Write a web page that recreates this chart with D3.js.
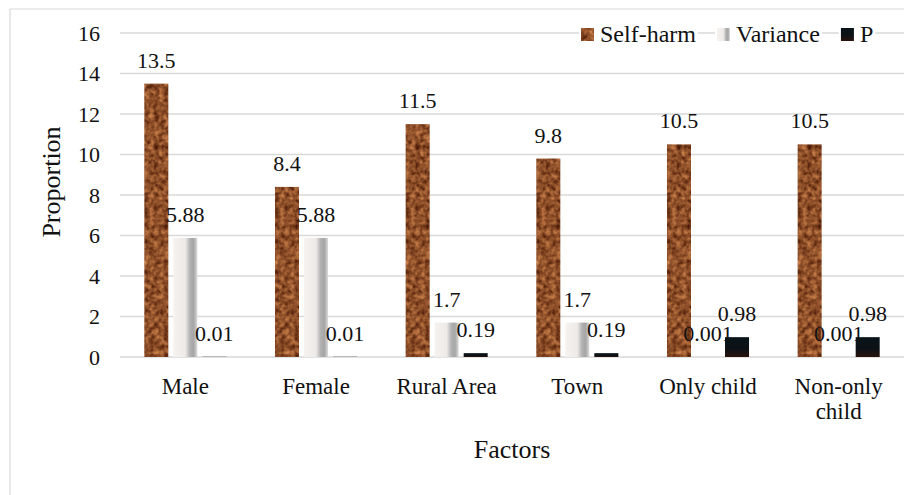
<!DOCTYPE html>
<html>
<head>
<meta charset="utf-8">
<script src="https://cdn.jsdelivr.net/npm/d3@7"></script>
<style>
  body { margin: 0; background: #fff; }
  text { font-family: 'Liberation Serif', 'Times New Roman', serif; fill: #111; }
</style>
</head>
<body>
<div id="chart"></div>
<script>
const categories = ['Male', 'Female', 'Rural Area', 'Town', 'Only child', 'Non-only child'];
const seriesNames = ['Self-harm', 'Variance', 'P'];
const selfHarm = [13.5, 8.4, 11.5, 9.8, 10.5, 10.5];
const variance = [5.88, 5.88, 1.7, 1.7, 0.001, 0.001];
const pValues = [0.01, 0.01, 0.19, 0.19, 0.98, 0.98];
const yTicks = [0, 2, 4, 6, 8, 10, 12, 14, 16];

const width = 918;
const height = 495;

const svg = d3.select('#chart')
    .append('svg')
    .attr('width', width)
    .attr('height', height);

const defs = svg.append('defs');

// brown mottled texture for Self-harm
const tex = defs.append('filter')
    .attr('id', 'brownTex')
    .attr('x', 0).attr('y', 0)
    .attr('width', '100%').attr('height', '100%')
    .attr('color-interpolation-filters', 'sRGB');
tex.append('feTurbulence')
    .attr('type', 'fractalNoise')
    .attr('baseFrequency', 0.2)
    .attr('numOctaves', 2)
    .attr('seed', 4)
    .attr('result', 'noise');
tex.append('feColorMatrix')
    .attr('in', 'noise')
    .attr('type', 'matrix')
    .attr('values', '0.75 0 0 0 0.18  0.6 0 0 0 0.01  0.4 0 0 0 -0.04  0 0 0 0 1')
    .attr('result', 'col');
tex.append('feComposite')
    .attr('in', 'col')
    .attr('in2', 'SourceGraphic')
    .attr('operator', 'in');

const varGrad = defs.append('linearGradient')
    .attr('id', 'varGrad')
    .attr('x1', '0%').attr('x2', '100%').attr('y1', '0%').attr('y2', '0%');
[['0%', '#f6f2f0'], ['50%', '#eeeae8'], ['70%', '#b0b0b0'], ['85%', '#a6a6a6'], ['100%', '#dcdcdc']]
    .forEach(([o, c]) => varGrad.append('stop').attr('offset', o).attr('stop-color', c));

const pGrad = defs.append('linearGradient')
    .attr('id', 'pGrad')
    .attr('x1', '0%').attr('x2', '0%').attr('y1', '0%').attr('y2', '100%');
[['0%', '#08141a'], ['60%', '#0c1216'], ['100%', '#2a120c']]
    .forEach(([o, c]) => pGrad.append('stop').attr('offset', o).attr('stop-color', c));

const fills = {
    'Self-harm': '#8a4b22',
    'Variance': 'url(#varGrad)',
    'P': 'url(#pGrad)'
};

// outer frame (left and top edges visible)
svg.append('line')
    .attr('x1', 10).attr('x2', 10).attr('y1', 9).attr('y2', height)
    .attr('stroke', '#d9d9d9').attr('stroke-width', 1.2);
svg.append('line')
    .attr('x1', 10).attr('x2', 904).attr('y1', 9).attr('y2', 9)
    .attr('stroke', '#d9d9d9').attr('stroke-width', 1.2);

const plotLeft = 120;
const plotRight = 904;

const y = d3.scaleLinear()
    .domain([0, 16])
    .range([357, 33]);

const x0 = d3.scaleBand()
    .domain(categories)
    .range([plotLeft, plotRight])
    .paddingInner(0.372)
    .paddingOuter(0.186);

const x1 = d3.scaleBand()
    .domain(seriesNames)
    .range([0, x0.bandwidth()])
    .paddingInner(0.172);

// gridlines
svg.append('g')
    .selectAll('line')
    .data(yTicks)
    .enter()
        .append('line')
        .attr('x1', plotLeft)
        .attr('x2', plotRight)
        .attr('y1', (d) => y(d))
        .attr('y2', (d) => y(d))
        .attr('stroke', '#d9d9d9')
        .attr('stroke-width', 1.6);

// y tick labels
svg.append('g')
    .selectAll('text')
    .data(yTicks)
    .enter()
        .append('text')
        .attr('x', 100)
        .attr('y', (d) => y(d))
        .attr('dy', '0.35em')
        .attr('text-anchor', 'end')
        .style('font-size', '22px')
        .text((d) => d);

const rows = categories.map((c, i) => ({
    category: c,
    values: [
        { key: 'Self-harm', value: selfHarm[i] },
        { key: 'Variance', value: variance[i] },
        { key: 'P', value: pValues[i] }
    ]
}));

const groups = svg.append('g')
    .selectAll('g')
    .data(rows)
    .enter()
        .append('g')
        .attr('transform', (d) => `translate(${x0(d.category)}, 0)`);

groups.selectAll('rect')
    .data((d) => d.values)
    .enter()
        .append('rect')
        .attr('x', (d) => x1(d.key))
        .attr('y', (d) => y(d.value))
        .attr('width', x1.bandwidth())
        .attr('height', (d) => y(0) - y(d.value))
        .attr('fill', (d) => fills[d.key])
        .attr('filter', (d) => d.key === 'Self-harm' ? 'url(#brownTex)' : null);

groups.selectAll('text')
    .data((d) => d.values)
    .enter()
        .append('text')
        .attr('x', (d) => x1(d.key) + x1.bandwidth() / 2)
        .attr('y', (d) => y(d.value) - 16)
        .attr('text-anchor', 'middle')
        .style('font-size', '22px')
        .text((d) => d.value);

// category labels, wrapped when too wide
const catLabels = svg.append('g')
    .selectAll('text')
    .data(categories)
    .enter()
        .append('text')
        .attr('x', (d) => x0(d) + x0.bandwidth() / 2)
        .attr('y', 394)
        .attr('text-anchor', 'middle')
        .style('font-size', '23px')
        .text((d) => d);

catLabels.each(function (d) {
    const t = d3.select(this);
    if (this.getComputedTextLength() > 120) {
        const words = d.split(' ');
        const cx = t.attr('x');
        t.text(null);
        words.forEach((w, i) => {
            t.append('tspan')
                .attr('x', cx)
                .attr('dy', i === 0 ? 0 : 25)
                .text(w);
        });
    }
});

// axis titles
svg.append('text')
    .attr('x', 512)
    .attr('y', 458)
    .attr('text-anchor', 'middle')
    .style('font-size', '26px')
    .text('Factors');

svg.append('text')
    .attr('transform', 'translate(60, 182) rotate(-90)')
    .attr('text-anchor', 'middle')
    .style('font-size', '26px')
    .text('Proportion');

// legend
const legend = svg.append('g');
let lx = 581;
seriesNames.forEach((name) => {
    const item = legend.append('g');
    const bg = item.append('rect')
        .attr('fill', '#fff');
    item.append('rect')
        .attr('x', lx)
        .attr('y', 28)
        .attr('width', 13)
        .attr('height', 13)
        .attr('fill', fills[name])
        .attr('filter', name === 'Self-harm' ? 'url(#brownTex)' : null);
    const label = item.append('text')
        .attr('x', lx + 19)
        .attr('y', 42)
        .style('font-size', '24px')
        .text(name);
    const w = label.node().getComputedTextLength();
    bg.attr('x', lx - 2)
        .attr('y', 20)
        .attr('width', w + 23)
        .attr('height', 26);
    lx += 19 + w + 21;
});
</script>
</body>
</html>
